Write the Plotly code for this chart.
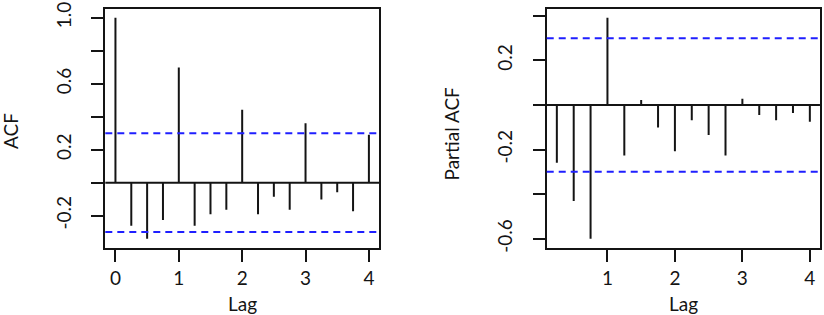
import plotly.graph_objects as go

acf_lags = [0, 0.25, 0.5, 0.75, 1, 1.25, 1.5, 1.75, 2, 2.25, 2.5, 2.75, 3, 3.25, 3.5, 3.75, 4]
acf_vals = [1.0, -0.262, -0.341, -0.226, 0.699, -0.262, -0.192, -0.165, 0.442, -0.192, -0.085,
            -0.165, 0.36, -0.103, -0.058, -0.173, 0.29]
pacf_lags = [0.25, 0.5, 0.75, 1, 1.25, 1.5, 1.75, 2, 2.25, 2.5, 2.75, 3, 3.25, 3.5, 3.75, 4]
pacf_vals = [-0.259, -0.431, -0.6, 0.39, -0.227, 0.022, -0.101, -0.208, -0.069, -0.135, -0.227,
             0.028, -0.045, -0.069, -0.036, -0.076]
ci = 0.299

acf_yticks = [-0.2, 0.0, 0.2, 0.4, 0.6, 0.8, 1.0]
acf_yticktext = ["-0.2", "", "0.2", "", "0.6", "", "1.0"]
pacf_yticks = [-0.6, -0.4, -0.2, 0.0, 0.2, 0.4]
pacf_yticktext = ["-0.6", "", "-0.2", "", "0.2", ""]
acf_xticks = [0, 1, 2, 3, 4]
pacf_xticks = [1, 2, 3, 4]

FONT = "Lato"
BLACK = "#141414"
BLUE = "#1f1fff"


def ext(lo, hi):
    d = (hi - lo) * 0.04
    return [lo - d, hi + d]


def segs(lags, vals):
    xs, ys = [], []
    for l, v in zip(lags, vals):
        xs += [l, l, None]
        ys += [0, v, None]
    return xs, ys


fig = go.Figure()
x1, y1 = segs(acf_lags, acf_vals)
fig.add_trace(go.Scatter(x=x1, y=y1, mode="lines", line=dict(color=BLACK, width=2),
                         xaxis="x", yaxis="y", showlegend=False, hoverinfo="skip"))
x2, y2 = segs(pacf_lags, pacf_vals)
fig.add_trace(go.Scatter(x=x2, y=y2, mode="lines", line=dict(color=BLACK, width=2),
                         xaxis="x2", yaxis="y2", showlegend=False, hoverinfo="skip"))

shapes = []
for xr, yr in (("x", "y"), ("x2", "y2")):
    shapes.append(dict(type="line", xref=xr + " domain", yref=yr, x0=0, x1=1, y0=0, y1=0,
                       line=dict(color=BLACK, width=2)))
    for s in (ci, -ci):
        shapes.append(dict(type="line", xref=xr + " domain", yref=yr, x0=0, x1=1, y0=s, y1=s,
                           line=dict(color=BLUE, width=2, dash="7px,5px")))

axis_common = dict(showgrid=False, zeroline=False, showline=True, mirror=True, automargin=False,
                   linecolor=BLACK, linewidth=2, ticks="outside", ticklen=12, tickwidth=2,
                   tickcolor=BLACK, tickfont=dict(family=FONT, size=19, color=BLACK))

acf_yr = ext(min(min(acf_vals), -ci), max(max(acf_vals), ci))
pacf_yr = ext(min(min(pacf_vals), -ci), max(max(pacf_vals), ci))

title_font = dict(family=FONT, size=19, color=BLACK)
fig.update_layout(
    template="none",
    width=824, height=315, margin=dict(l=0, r=0, t=0, b=0, pad=0),
    paper_bgcolor="white", plot_bgcolor="white",
    xaxis=dict(domain=[0.1278, 0.4600], range=ext(min(acf_lags), max(acf_lags)),
               tickvals=acf_xticks, ticktext=[str(v) for v in acf_xticks],
               ticklabelstandoff=1, anchor="y", **axis_common),
    yaxis=dict(domain=[0.2137, 0.9714], range=acf_yr, tickvals=acf_yticks,
               ticktext=acf_yticktext, tickangle=-90, ticklabelstandoff=13,
               anchor="x", **axis_common),
    xaxis2=dict(domain=[0.6635, 0.9951], range=ext(min(pacf_lags), max(pacf_lags)),
                tickvals=pacf_xticks, ticktext=[str(v) for v in pacf_xticks],
                ticklabelstandoff=1, anchor="y2", **axis_common),
    yaxis2=dict(domain=[0.2137, 0.9714], range=pacf_yr, tickvals=pacf_yticks,
                ticktext=pacf_yticktext, tickangle=-90, ticklabelstandoff=13,
                anchor="x2", **axis_common),
    shapes=shapes,
    annotations=[
        dict(text="ACF", x=0.0121, y=0.584, xref="paper", yref="paper", textangle=-90,
             xanchor="center", yanchor="middle", showarrow=False, font=title_font),
        dict(text="Partial ACF", x=0.548, y=0.575, xref="paper", yref="paper", textangle=-90,
             xanchor="center", yanchor="middle", showarrow=False, font=title_font),
        dict(text="Lag", x=0.2937, y=0.038, xref="paper", yref="paper",
             xanchor="center", yanchor="middle", showarrow=False, font=title_font),
        dict(text="Lag", x=0.829, y=0.038, xref="paper", yref="paper",
             xanchor="center", yanchor="middle", showarrow=False, font=title_font),
    ],
)

fig.write_html("out.html", config={"displayModeBar": False},
               post_script="document.body.style.margin='0';")
